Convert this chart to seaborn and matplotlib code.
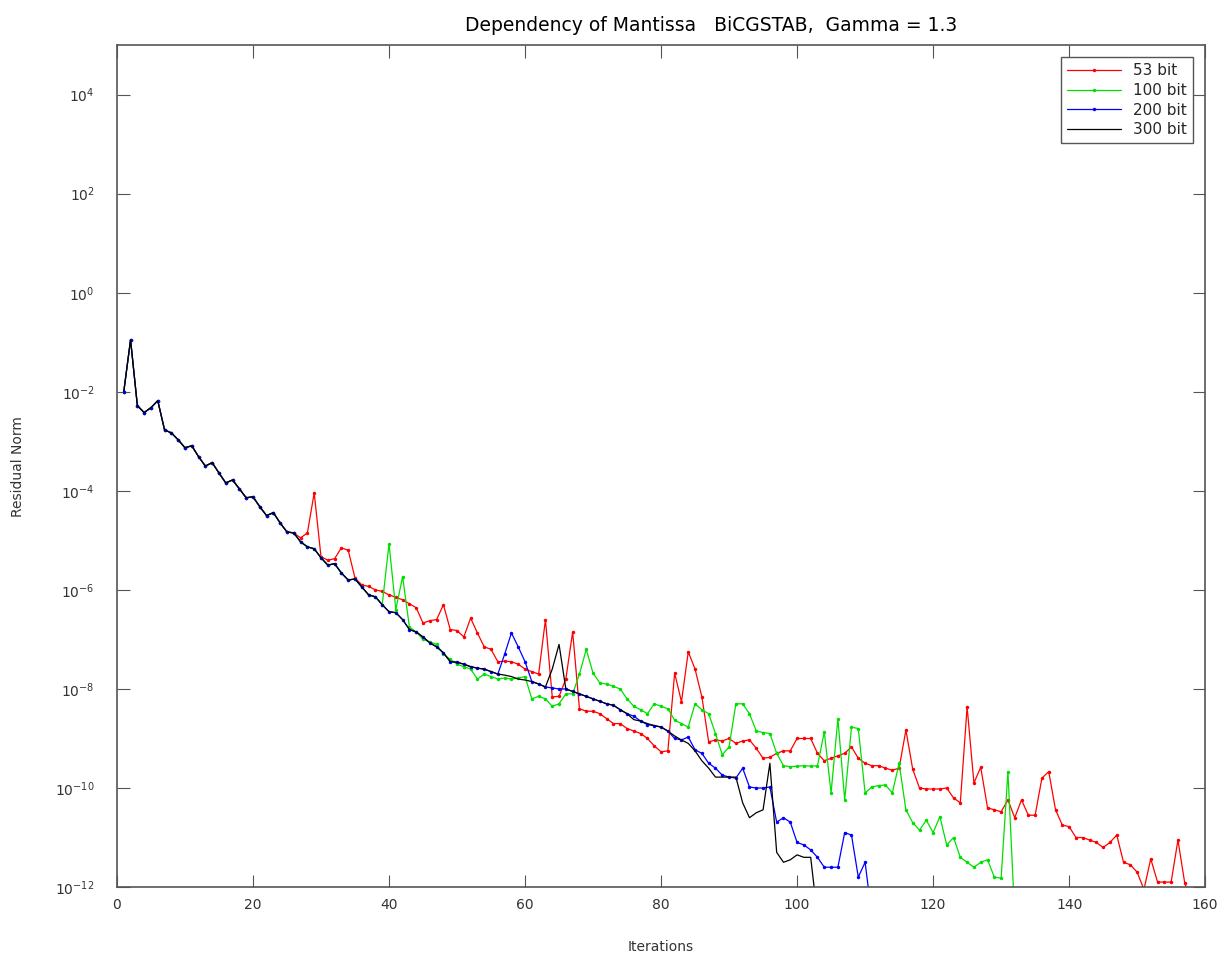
import numpy as np
import pandas as pd
import seaborn as sns
from matplotlib import pyplot as plt
import matplotlib as mpl

# log10 of residual norm
head = [-2.0, -0.95, -2.28, -2.42, -2.32, -2.18, -2.77, -2.83, -2.97, -3.13,
        -3.09, -3.31, -3.5, -3.43, -3.64, -3.84, -3.78, -3.96, -4.14, -4.12,
        -4.32, -4.5, -4.44, -4.65, -4.83, -4.85]

# iterations 27..158
tail_53 = [-4.95, -4.85, -4.04, -5.33, -5.4, -5.37, -5.15, -5.2, -5.76, -5.9,
           -5.93, -6.0, -6.03, -6.1, -6.15, -6.2, -6.28, -6.36, -6.67, -6.62,
           -6.6, -6.3, -6.8, -6.82, -6.95, -6.57, -6.87, -7.15, -7.2, -7.45,
           -7.44, -7.45, -7.5, -7.6, -7.65, -7.7, -6.6, -8.16, -8.15, -7.8,
           -6.85, -8.4, -8.45, -8.45, -8.5, -8.6, -8.7, -8.7, -8.8, -8.85,
           -8.9, -9.0, -9.15, -9.27, -9.25, -7.68, -8.26, -7.25, -7.6, -8.16,
           -9.07, -9.03, -9.05, -9.0, -9.1, -9.05, -9.03, -9.2, -9.4, -9.38,
           -9.3, -9.25, -9.25, -9.0, -9.0, -9.0, -9.3, -9.45, -9.4, -9.35,
           -9.3, -9.17, -9.4, -9.5, -9.55, -9.55, -9.6, -9.64, -9.6, -8.83,
           -9.62, -10.0, -10.02, -10.02, -10.02, -10.0, -10.2, -10.3, -8.36, -9.9,
           -9.58, -10.4, -10.44, -10.48, -10.24, -10.6, -10.24, -10.55, -10.55, -9.8,
           -9.67, -10.44, -10.75, -10.78, -11.0, -11.0, -11.05, -11.1, -11.2, -11.1,
           -10.95, -11.5, -11.55, -11.7, -12.05, -11.43, -11.9, -11.9, -11.9, -11.05,
           -11.92, -12.3]

# iterations 27..132
tail_100 = [-5.03, -5.13, -5.17, -5.35, -5.5, -5.47, -5.66, -5.8, -5.78, -5.94,
            -6.1, -6.14, -6.3, -5.07, -6.4, -5.73, -6.75, -6.85, -7.0, -7.05,
            -7.1, -7.3, -7.4, -7.5, -7.55, -7.6, -7.8, -7.7, -7.75, -7.8,
            -7.78, -7.8, -7.78, -7.75, -8.2, -8.15, -8.2, -8.35, -8.3, -8.1,
            -8.1, -7.7, -7.2, -7.68, -7.88, -7.9, -7.95, -8.0, -8.2, -8.35,
            -8.42, -8.5, -8.3, -8.35, -8.4, -8.63, -8.7, -8.77, -8.3, -8.42,
            -8.5, -8.9, -9.33, -9.17, -8.3, -8.3, -8.5, -8.85, -8.88, -8.9,
            -9.3, -9.55, -9.57, -9.56, -9.55, -9.56, -9.55, -8.87, -10.1, -8.6,
            -10.24, -8.77, -8.8, -10.1, -9.98, -9.95, -9.94, -10.1, -9.5, -10.44,
            -10.7, -10.85, -10.65, -10.9, -10.58, -11.15, -11.0, -11.4, -11.5, -11.6,
            -11.5, -11.45, -11.8, -11.82, -9.67, -12.6]

# iterations 27..111
tail_200 = [-5.03, -5.13, -5.17, -5.35, -5.5, -5.47, -5.66, -5.8, -5.78, -5.94,
            -6.1, -6.14, -6.3, -6.44, -6.46, -6.6, -6.8, -6.85, -6.95, -7.07,
            -7.15, -7.27, -7.45, -7.46, -7.5, -7.55, -7.58, -7.6, -7.65, -7.7,
            -7.3, -6.87, -7.15, -7.45, -7.85, -7.9, -7.96, -7.98, -8.0, -8.0,
            -8.05, -8.1, -8.15, -8.2, -8.25, -8.3, -8.33, -8.42, -8.5, -8.55,
            -8.65, -8.72, -8.74, -8.77, -8.85, -9.0, -9.03, -8.97, -9.23, -9.3,
            -9.5, -9.6, -9.74, -9.78, -9.8, -9.6, -9.98, -10.0, -10.0, -9.98,
            -10.69, -10.6, -10.69, -11.1, -11.15, -11.25, -11.4, -11.6, -11.6, -11.6,
            -10.9, -10.95, -11.8, -11.5, -12.6]

# iterations 27..103
tail_300 = [-5.03, -5.13, -5.17, -5.35, -5.5, -5.47, -5.66, -5.8, -5.78, -5.94,
            -6.1, -6.14, -6.3, -6.44, -6.46, -6.6, -6.8, -6.85, -6.95, -7.07,
            -7.15, -7.27, -7.45, -7.46, -7.5, -7.55, -7.58, -7.6, -7.65, -7.7,
            -7.72, -7.75, -7.8, -7.82, -7.85, -7.9, -7.96, -7.6, -7.1, -8.0,
            -8.05, -8.1, -8.15, -8.2, -8.25, -8.3, -8.33, -8.42, -8.5, -8.62,
            -8.65, -8.7, -8.74, -8.77, -8.85, -8.95, -9.03, -9.1, -9.25, -9.45,
            -9.6, -9.78, -9.78, -9.78, -9.78, -10.3, -10.6, -10.5, -10.44, -9.5,
            -11.3, -11.5, -11.45, -11.35, -11.4, -11.4, -12.6]

series = [
    ("53 bit", head + tail_53, "red", "."),
    ("100 bit", head + tail_100, "#00e000", "."),
    ("200 bit", head + tail_200, "blue", "."),
    ("300 bit", head + tail_300, "black", None),
]

fig, ax = plt.subplots(figsize=(12.26, 9.6), dpi=100)
fig.subplots_adjust(left=0.0954, right=0.983, top=0.953, bottom=0.076)
sns.set_style("white")

for label, logs, color, marker in series:
    it = np.arange(1, len(logs) + 1)
    df = pd.DataFrame({"it": it, "res": 10.0 ** np.array(logs)})
    sns.lineplot(data=df, x="it", y="res", ax=ax, color=color, label=label,
                 marker=marker, markersize=5, markeredgewidth=0, linewidth=0.9,
                 estimator=None, sort=False)

ax.set_yscale("log")
ax.set_xlim(0, 160)
ax.set_ylim(1e-12, 1e5)
ax.set_xticks(range(0, 161, 20))
ax.set_yticks([10.0 ** k for k in range(-12, 5, 2)])
ax.yaxis.set_minor_locator(mpl.ticker.NullLocator())
ax.tick_params(direction="in", top=True, right=True, length=9, labelsize=10,
               labelcolor="#333333", color="#555555")
ax.tick_params(axis="y", pad=16)
ax.tick_params(axis="x", pad=8)
for s in ax.spines.values():
    s.set_color("#555555")
    s.set_linewidth(1.2)

ax.set_title("Dependency of Mantissa   BiCGSTAB,  Gamma = 1.3", fontsize=13.5,
             pad=10, x=0.546)
ax.set_xlabel("Iterations", fontsize=10, color="#333333", labelpad=20)
ax.set_ylabel("Residual Norm", fontsize=10, color="#333333", labelpad=22)

leg = ax.legend(loc="upper right", fancybox=False, edgecolor="#555555",
                framealpha=1, fontsize=11, borderaxespad=0.8, handlelength=3.5,
                labelspacing=0.3)
leg.get_frame().set_linewidth(1.0)

fig.savefig("out.png", dpi=100)
